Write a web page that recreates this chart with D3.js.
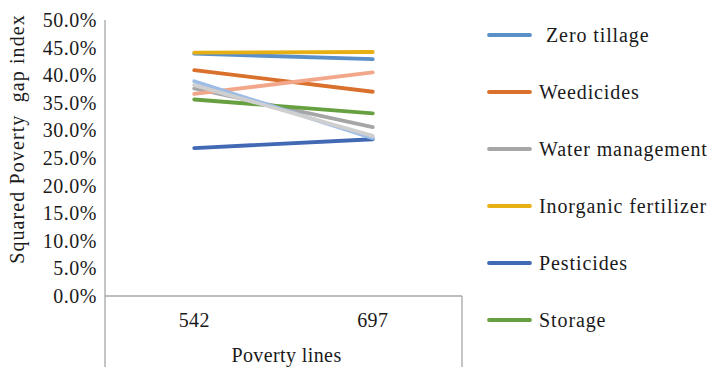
<!DOCTYPE html>
<html><head><meta charset="utf-8">
<script src="https://cdn.jsdelivr.net/npm/d3@7"></script>
<style>
html,body{margin:0;padding:0;background:#fff;}
svg text{font-family:"Liberation Serif","Times New Roman",Times,serif;fill:#1a1a1a;}
</style></head>
<body><svg id="c" width="711" height="367"></svg>
<script>
const categories = ["542", "697"];
const seriesNames = ["Zero tillage", "Weedicides", "Water management", "Inorganic fertilizer", "Pesticides", "Storage", "Series 7", "Series 8", "Series 9"];
const zeroTillage = [0.439, 0.429];
const weedicides = [0.409, 0.370];
const waterManagement = [0.376, 0.306];
const inorganicFertilizer = [0.441, 0.442];
const pesticides = [0.268, 0.284];
const storage = [0.356, 0.331];
const series7 = [0.366, 0.405];
const series8 = [0.389, 0.286];
const series9 = [0.382, 0.290];
const seriesColors = ["#5b8fc8", "#d9702c", "#a6a6a6", "#e6b014", "#4169b4", "#66a040", "#f2a78a", "#9dbde6", "#cfcfcf"];
const legendCount = 6;
const yTicks = [0, 0.05, 0.10, 0.15, 0.20, 0.25, 0.30, 0.35, 0.40, 0.45, 0.50];
const yTitle = "Squared Poverty  gap index";
const xTitle = "Poverty lines";

(function () {
const values = [zeroTillage, weedicides, waterManagement, inorganicFertilizer, pesticides, storage, series7, series8, series9];
const series = seriesNames.map((n, i) => ({name: n, values: values[i], color: seriesColors[i]}));

const svg = d3.select("#c");
const mLeft = 105, mRight = 462, mTop = 20, mBottom = 296;
const x = d3.scaleBand().domain(categories).range([mLeft, mRight]);
const y = d3.scaleLinear().domain([0, 0.5]).range([mBottom, mTop]);
const FS = 20;

const axisColor = "#a6a6a6";
svg.append("line").attr("x1", mLeft).attr("x2", mLeft).attr("y1", mTop).attr("y2", 367).attr("stroke", axisColor).attr("stroke-width", 1.3);
svg.append("line").attr("x1", mRight).attr("x2", mRight).attr("y1", mBottom).attr("y2", 367).attr("stroke", axisColor).attr("stroke-width", 1.3);
svg.append("line").attr("x1", mLeft).attr("x2", mRight).attr("y1", mBottom).attr("y2", mBottom).attr("stroke", axisColor).attr("stroke-width", 1.3);

const fmt = d3.format(".1%");
svg.append("g").selectAll("text").data(yTicks).join("text")
  .attr("x", 97).attr("y", d => y(d)).attr("dy", "0.35em")
  .attr("text-anchor", "end").attr("font-size", FS).attr("letter-spacing", 0.5)
  .text(d => fmt(d));

svg.append("g").selectAll("text").data(categories).join("text")
  .attr("x", d => x(d) + x.bandwidth() / 2).attr("y", 327)
  .attr("text-anchor", "middle").attr("font-size", FS).attr("letter-spacing", 0.4)
  .text(d => d);

svg.append("text").attr("x", (mLeft + mRight) / 2 + 3).attr("y", 362)
  .attr("text-anchor", "middle").attr("font-size", FS).attr("letter-spacing", 0.4)
  .text(xTitle);

svg.append("text").attr("transform", "translate(24,139) rotate(-90)")
  .attr("text-anchor", "middle").attr("font-size", FS).attr("letter-spacing", 1.1)
  .style("white-space", "pre").text(yTitle);

const line = d3.line().x((d, i) => x(categories[i]) + x.bandwidth() / 2).y(d => y(d));
svg.append("g").selectAll("path").data(series).join("path")
  .attr("d", d => line(d.values)).attr("fill", "none")
  .attr("stroke", d => d.color).attr("stroke-width", 3.8).attr("stroke-linecap", "round");

const lg = svg.append("g").selectAll("g").data(series.slice(0, legendCount)).join("g")
  .attr("transform", (d, i) => `translate(489,${35 + i * 57})`);
lg.append("line").attr("x1", 0).attr("x2", 41).attr("stroke", d => d.color).attr("stroke-width", 3.8).attr("stroke-linecap", "round");
lg.append("text").attr("x", (d, i) => i === 0 ? 57 : 50).attr("dy", "0.35em")
  .attr("font-size", FS).attr("letter-spacing", 0.9).text(d => d.name);
})();
</script></body></html>
